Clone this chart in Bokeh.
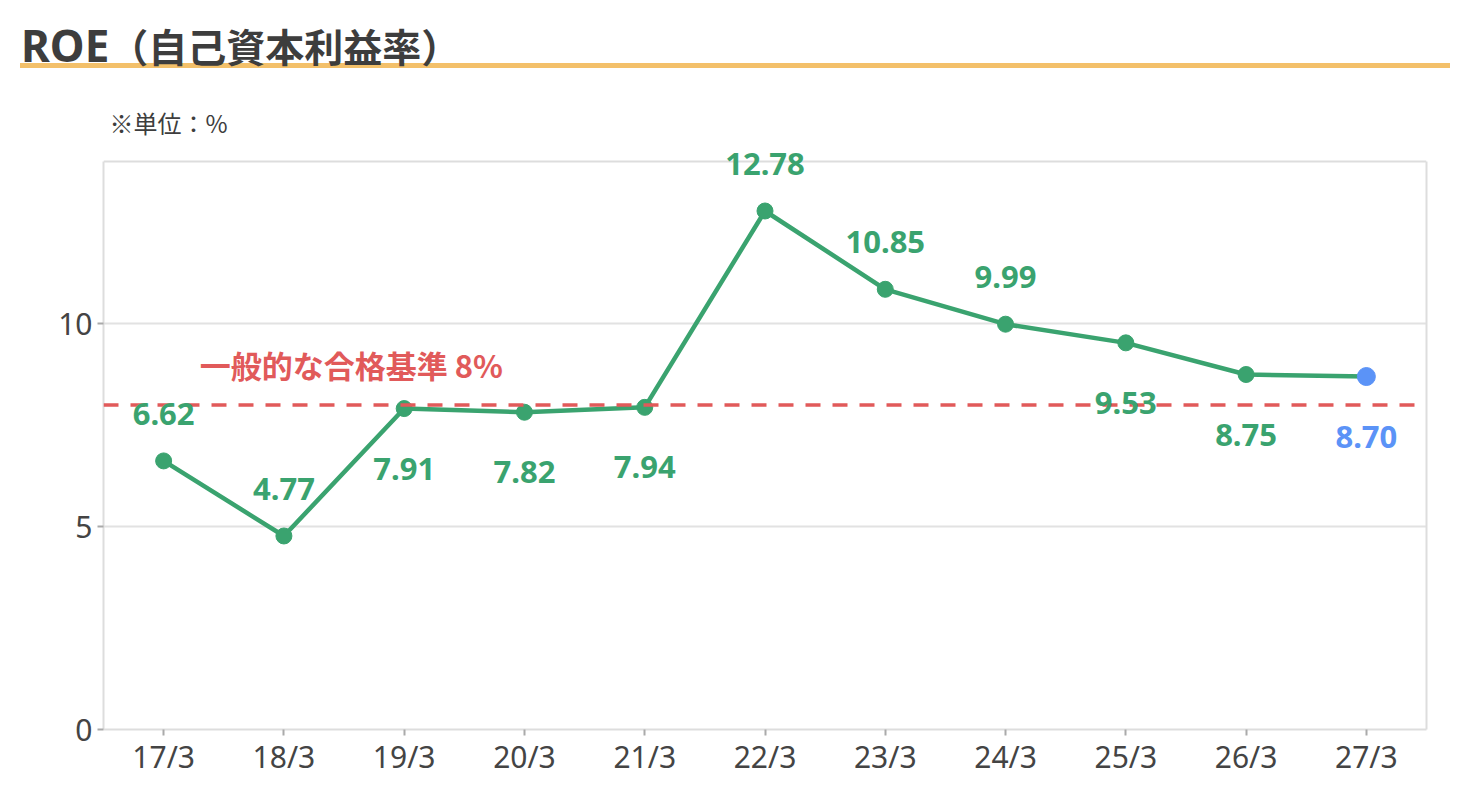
from bokeh.plotting import figure
from bokeh.models import ColumnDataSource, Div, Span, Label, LabelSet, FixedTicker, LinearAxis
from bokeh.layouts import column
from bokeh.core.properties import value
from bokeh.embed import file_html
from bokeh.resources import INLINE

# data
title_latin = "ROE"
title_jp = "（自己資本利益率）"
unit_note = "※単位：%"
periods = ["17/3", "18/3", "19/3", "20/3", "21/3", "22/3", "23/3", "24/3", "25/3", "26/3", "27/3"]
roe = [6.62, 4.77, 7.91, 7.82, 7.94, 12.78, 10.85, 9.99, 9.53, 8.75, 8.70]
label_side = ["above", "above", "below", "below", "below", "above", "above", "above", "below", "below", "below"]
benchmark = 8
benchmark_text = "一般的な合格基準 8%"
y_ticks = [0, 5, 10]
y_max = 14

JP = "Noto Sans CJK JP"
LATIN = "Noto Sans"
GREEN = "#3aa36f"
BLUE = "#5b93f7"
RED = "#e15a5a"
TEXT = "#3d3d3d"
BORDER = "#dddddd"

# the frame is a little taller than the 0..y_max box so the top value label is not clipped
frame_px, head_px = 568, 21
y_end = y_max * (frame_px + head_px) / frame_px
header_h = 88

colors = [GREEN] * (len(roe) - 1) + [BLUE]
sizes = [16] * (len(roe) - 1) + [18]
labels = [f"{v:.2f}" for v in roe]

src = ColumnDataSource(dict(period=periods, roe=roe, color=colors, size=sizes, label=labels))

def side_source(side):
	idx = [i for i, s in enumerate(label_side) if s == side]
	return ColumnDataSource(dict(
		period=[periods[i] for i in idx],
		roe=[roe[i] for i in idx],
		label=[labels[i] for i in idx],
		color=[colors[i] for i in idx],
	))

header = Div(width=1460, height=header_h, margin=0, text=f"""
<div style="position:relative;width:1460px;height:{header_h}px;color:{TEXT};box-sizing:border-box;">
  <div style="position:absolute;left:20px;top:0;width:1430px;height:68px;box-sizing:border-box;border-bottom:5px solid #f3c06a;"></div>
  <div style="position:absolute;left:21px;top:23px;font-family:'{LATIN}','{JP}',sans-serif;font-size:44px;line-height:44px;font-weight:700;white-space:nowrap;">{title_latin}<span style="font-family:'{JP}',sans-serif;font-size:39px;">{title_jp}</span></div>
</div>""")

p = figure(x_range=periods, y_range=(0, y_end), width=1460, height=791 - header_h,
	output_backend="svg", toolbar_location=None,
	min_border_left=103, min_border_right=34, min_border_top=161 - head_px - header_h,
	min_border_bottom=62)

p.title.text = unit_note
p.title.align = "left"
p.title.offset = 6
p.title.standoff = 2
p.title.text_font = JP
p.title.text_font_size = "24px"
p.title.text_font_style = "normal"
p.title.text_color = TEXT

p.outline_line_color = None
p.xgrid.grid_line_color = None
p.ygrid.ticker = FixedTicker(ticks=y_ticks)
p.ygrid.grid_line_color = "#e2e2e2"
p.ygrid.grid_line_width = 2

# right and top edges of the 0..y_max box
p.add_layout(LinearAxis(bounds=(0, y_max), ticker=FixedTicker(ticks=[]),
	major_tick_line_color=None, minor_tick_line_color=None,
	axis_line_color=BORDER, axis_line_width=2), "right")
p.add_layout(Span(location=y_max, dimension="width", line_color=BORDER, line_width=2))

p.yaxis[0].ticker = FixedTicker(ticks=y_ticks)
p.yaxis[0].bounds = (0, y_max)
for ax in (p.xaxis[0], p.yaxis[0]):
	ax.axis_line_color = BORDER
	ax.axis_line_width = 2
	ax.major_tick_line_color = "#aaaaaa"
	ax.major_tick_line_width = 2
	ax.major_tick_in = 0
	ax.major_tick_out = 6
	ax.minor_tick_line_color = None
	ax.major_label_text_font = LATIN
	ax.major_label_text_font_size = "30px"
	ax.major_label_text_color = "#444444"
p.yaxis[0].major_label_standoff = 5
p.xaxis[0].major_label_standoff = 0

p.add_layout(Span(location=benchmark, dimension="width", line_color=RED,
	line_dash="15 12", line_width=3.5))
p.add_layout(Label(x=2.06, y=benchmark, y_offset=40, text=benchmark_text,
	text_align="center", text_baseline="middle", text_font=JP,
	text_font_size="31px", text_font_style="bold", text_color=RED))

p.line("period", "roe", source=src, line_color=GREEN, line_width=4.5)
p.scatter("period", "roe", source=src, size="size", fill_color="color", line_color="color")

for side, off in (("above", 47), ("below", -60)):
	p.add_layout(LabelSet(x="period", y="roe", text="label", source=side_source(side),
		y_offset=off, text_align="center", text_baseline="middle", text_color="color",
		text_font=value(LATIN), text_font_size="31px", text_font_style="bold"))

layout = column(header, p)
open("out.html", "w").write(file_html(layout, INLINE))
